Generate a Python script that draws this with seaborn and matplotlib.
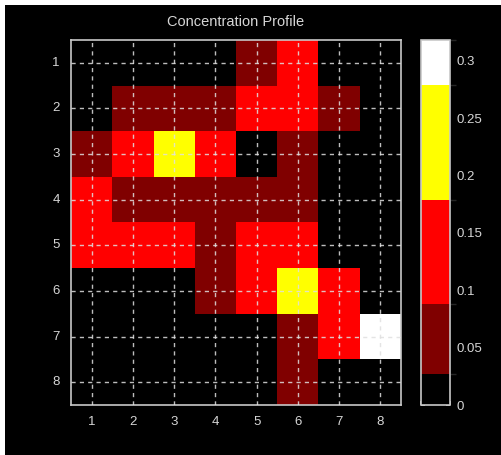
import numpy as np
import pandas as pd
import seaborn as sns
import matplotlib
matplotlib.use("Agg")
import matplotlib.pyplot as plt
from matplotlib import font_manager
from matplotlib.colors import ListedColormap, BoundaryNorm
from matplotlib.patches import Rectangle

# Concentration values on the 8x8 grid (row 1 at the top)
rows = [1, 2, 3, 4, 5, 6, 7, 8]
cols = [1, 2, 3, 4, 5, 6, 7, 8]
row1 = [0.0, 0.0, 0.0, 0.0, 0.06, 0.13, 0.0, 0.0]
row2 = [0.0, 0.06, 0.06, 0.06, 0.13, 0.13, 0.06, 0.0]
row3 = [0.06, 0.13, 0.23, 0.13, 0.0, 0.06, 0.0, 0.0]
row4 = [0.13, 0.06, 0.06, 0.06, 0.06, 0.06, 0.0, 0.0]
row5 = [0.13, 0.13, 0.13, 0.06, 0.13, 0.13, 0.0, 0.0]
row6 = [0.0, 0.0, 0.0, 0.06, 0.13, 0.23, 0.13, 0.0]
row7 = [0.0, 0.0, 0.0, 0.0, 0.0, 0.06, 0.13, 0.318]
row8 = [0.0, 0.0, 0.0, 0.0, 0.0, 0.06, 0.0, 0.0]

# Colour levels of the map
level_edges = [0.0, 0.027, 0.088, 0.179, 0.279, 0.318]
level_colors = ["#000000", "#800000", "#ff0000", "#ffff00", "#ffffff"]
cbar_ticks = [0, 0.05, 0.1, 0.15, 0.2, 0.25, 0.3]
cbar_labels = ["0", "0.05", "0.1", "0.15", "0.2", "0.25", "0.3"]

df = pd.DataFrame([row1, row2, row3, row4, row5, row6, row7, row8],
                  index=rows, columns=cols)

sns.set_theme(style="dark")

# Prefer a condensed face when one is available
try:
    font_manager.findfont("Liberation Sans Narrow", fallback_to_default=False)
    have_narrow = True
except Exception:
    have_narrow = False
plt.rcParams["font.family"] = (["Liberation Sans Narrow", "DejaVu Sans"] if have_narrow
                               else ["Liberation Sans", "DejaVu Sans"])
tick_size = 11 if have_narrow else 9.5
title_size = 12 if have_narrow else 10.5

text_color = "#d6d6d6"
line_color = "#c8c8c8"

W, H = 502, 455
fig = plt.figure(figsize=(W / 100, H / 100), dpi=100)
fig.patch.set_facecolor("white")
fig.patches.append(Rectangle((5 / W, 0), 1 - 5 / W, 450 / H,
                             transform=fig.transFigure, facecolor="black",
                             edgecolor="none", zorder=-10))

ax = fig.add_axes([71 / W, (H - 405) / H, 330 / W, 365 / H])
cax = fig.add_axes([421 / W, (H - 405) / H, 29 / W, 365 / H])

cmap = ListedColormap(level_colors)
norm = BoundaryNorm(level_edges, cmap.N)

sns.heatmap(df, ax=ax, cbar_ax=cax, cmap=cmap, norm=norm,
            cbar_kws={"spacing": "proportional", "ticks": cbar_ticks},
            linewidths=0)

ax.set_facecolor("black")
ax.set_xticks(np.arange(len(cols)) + 0.5)
ax.set_xticklabels([str(c) for c in cols], rotation=0)
ax.set_yticks(np.arange(len(rows)) + 0.5)
ax.set_yticklabels([str(r) for r in rows], rotation=0)
ax.tick_params(axis="both", length=0, colors=text_color, labelsize=tick_size, pad=8)
ax.set_xlabel("")
ax.set_ylabel("")
ax.set_axisbelow(False)
ax.grid(True, color="#e0e0e0", linestyle=(0, (3, 3)), linewidth=1.0, alpha=0.85)
for sp in ax.spines.values():
    sp.set_visible(True)
    sp.set_color(line_color)
    sp.set_linewidth(1.2)
ax.set_title("Concentration Profile", color=text_color, fontsize=title_size, pad=10)

cb = ax.collections[0].colorbar
cb.set_ticks(cbar_ticks)
cb.set_ticklabels(cbar_labels)
cb.outline.set_edgecolor(line_color)
cb.outline.set_linewidth(1.2)
cax.tick_params(axis="y", colors=text_color, labelsize=tick_size, direction="in",
                length=3, left=True, right=True, pad=5)
# small inward ticks along the bottom edge of the colour bar
cax.set_xticks([0.0, 0.5, 1.0])
cax.set_xticklabels([])
cax.tick_params(axis="x", colors=line_color, direction="in", length=3,
                bottom=True, top=False)

fig.savefig("out.png", dpi=100, facecolor=fig.get_facecolor())
